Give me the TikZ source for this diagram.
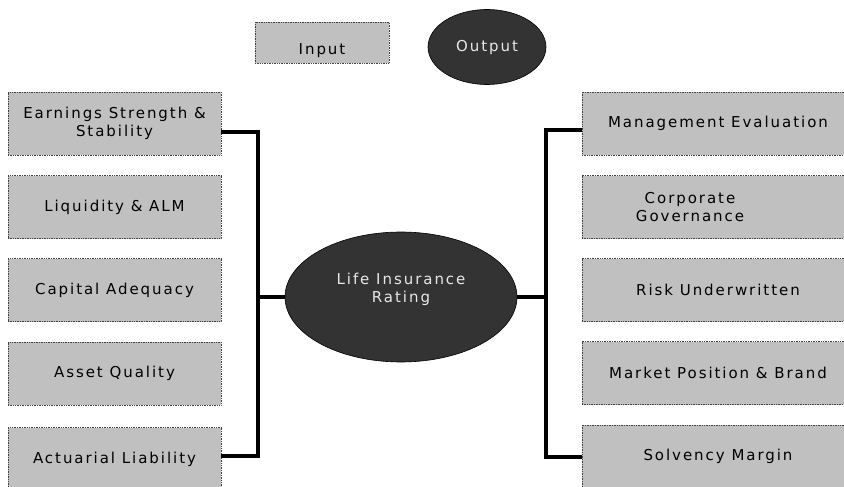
\documentclass[tikz,border=0pt]{standalone}
\usepackage{fontspec}
\setmainfont{DejaVu Sans}[LetterSpace=13]
\usetikzlibrary{shapes.geometric}

\definecolor{boxgray}{HTML}{C0C0C0}
\definecolor{ovaldark}{HTML}{333333}
\definecolor{ovaltext}{HTML}{E8E8E8}

\tikzset{
	factor/.style={rectangle, fill=boxgray, draw=black!75, densely dotted, line width=0.7pt,
		minimum width=213pt, minimum height=63pt, inner sep=0pt, align=center,
		font=\fontsize{15}{18}\selectfont},
	rfactor/.style={factor, minimum width=272pt},
	oval/.style={ellipse, fill=ovaldark, draw=black, line width=0.6pt, inner sep=0pt,
		text=ovaltext, align=center, font=\fontsize{15}{18}\selectfont},
	bracket/.style={line width=3.6pt}
}

\begin{document}
\begin{tikzpicture}[x=1pt, y=-1pt]
	\useasboundingbox (0,0) rectangle (844,487); % Rand wie Vorlage
	\clip (0,0) rectangle (844,487);
	
	% Legende
	\node[factor, minimum width=134pt, minimum height=41pt] (input) at (322,42.5) {\raisebox{-12pt}[0pt][0pt]{Input}};
	\node[oval, minimum width=118pt, minimum height=75pt] (output) at (487,47) {Output};
	
	% linke Seite
	\node[factor] (earn) at (114.5,123.5) {Earnings Strength \&\\Stability};
	\node[factor] (liq) at (114.5,207) {Liquidity \& ALM};
	\node[factor] (cap) at (114.5,290) {Capital Adequacy};
	\node[factor] (asset) at (114.5,373.5) {Asset Quality};
	\node[factor] (actu) at (114.5,459) {Actuarial Liability};
	
	% rechte Seite
	\node[rfactor] (mgmt) at (718,123.5) {Management Evaluation};
	\node[rfactor] (gov) at (718,207) {\hspace*{-56pt}Corporate\\\hspace*{-56pt}Governance};
	\node[rfactor] (risk) at (718,290) {Risk Underwritten};
	\node[rfactor] (market) at (718,373) {Market Position \& Brand};
	\node[rfactor] (solv) at (718,456.5) {Solvency Margin};
	
	% Mitte
	\node[oval, minimum width=232pt, minimum height=130pt] (core) at (401,297) {Life Insurance\\Rating\\\mbox{}};
	
	% Klammern
	\coordinate (ltop) at (258,132);
	\coordinate (lbot) at (258,456);
	\coordinate (rtop) at (546,130);
	\coordinate (rbot) at (546,457);
	
	\draw[bracket] (ltop -| earn.east) -- (ltop) -- (lbot) -- (lbot -| actu.east);
	\draw[bracket] (core.west) -- (core.west -| ltop);
	\draw[bracket] (rtop -| mgmt.west) -- (rtop) -- (rbot) -- (rbot -| solv.west);
	\draw[bracket] (core.east) -- (core.east -| rtop);
\end{tikzpicture}
\end{document}
